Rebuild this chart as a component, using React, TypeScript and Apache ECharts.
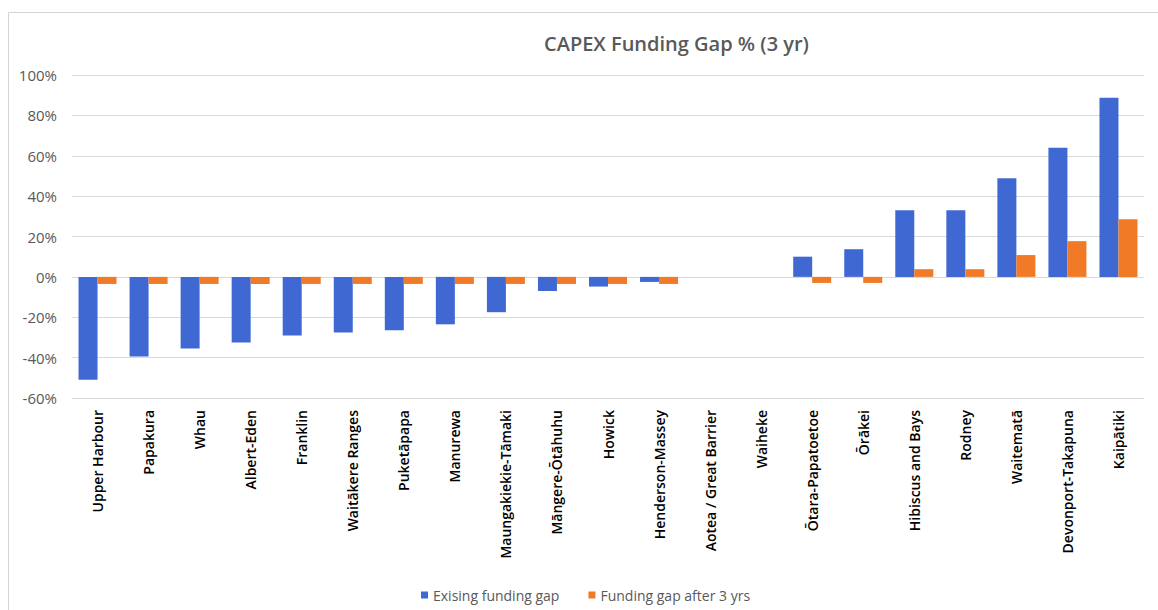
import React, { useEffect, useRef } from "react";
import * as echarts from "echarts";

const categories = [
  "Upper Harbour", "Papakura", "Whau", "Albert-Eden", "Franklin", "Waitākere Ranges",
  "Puketāpapa", "Manurewa", "Maungakiekie-Tāmaki", "Māngere-Ōtāhuhu", "Howick",
  "Henderson-Massey", "Aotea / Great Barrier", "Waiheke", "Ōtara-Papatoetoe", "Ōrākei",
  "Hibiscus and Bays", "Rodney", "Waitematā", "Devonport-Takapuna", "Kaipātiki",
];
const existingGap = [
  -51, -39.5, -35.5, -32.5, -29, -27.5, -26.5, -23.5, -17.5, -7, -4.8, -2.5, 0, 0,
  10, 13.7, 33, 33, 48.8, 64, 88.7,
];
const gapAfter3 = [
  -3.5, -3.5, -3.5, -3.5, -3.5, -3.5, -3.5, -3.5, -3.5, -3.5, -3.5, -3.5, 0, 0,
  -3, -3, 3.8, 3.8, 10.8, 17.7, 28.6,
];
const seriesNames = ["Exising funding gap", "Funding gap after 3 yrs"];
const titleText = "CAPEX Funding Gap % (3 yr)";

export default function App() {
  const ref = useRef<HTMLDivElement>(null);
  useEffect(() => {
    if (!ref.current) return;
    const chart = echarts.init(ref.current, undefined, { renderer: "svg" });
    const font = "'Open Sans', sans-serif";
    chart.setOption({
      animation: false,
      backgroundColor: "#ffffff",
      title: {
        text: titleText,
        left: 539,
        top: 28,
        textStyle: { fontFamily: font, fontSize: 20, fontWeight: 600, color: "#595959" },
      },
      graphic: [
        {
          type: "rect",
          shape: { x: 8.5, y: 12.5, width: 1160, height: 620 },
          style: { fill: "none", stroke: "#d4d4d4", lineWidth: 1 },
          silent: true,
        },
      ],
      legend: {
        left: 416,
        top: 583,
        itemWidth: 7,
        itemHeight: 7,
        itemGap: 29,
        icon: "rect",
        textStyle: { fontFamily: font, fontSize: 14, color: "#595959" },
        data: seriesNames,
      },
      grid: { left: 72, right: 14, top: 75, bottom: 212, containLabel: false },
      xAxis: {
        type: "category",
        data: categories,
        axisLine: { show: false, onZero: false },
        axisTick: { show: false },
        axisLabel: {
          rotate: 90,
          interval: 0,
          margin: 12,
          fontFamily: font,
          fontSize: 14,
          fontWeight: 600,
          color: "#000000",
        },
      },
      yAxis: {
        type: "value",
        min: -60,
        max: 100,
        interval: 20,
        axisLine: { show: false },
        axisTick: { show: false },
        splitLine: { lineStyle: { color: "#d9d9d9", width: 1 } },
        axisLabel: {
          margin: 15,
          fontFamily: font,
          fontSize: 15,
          color: "#595959",
          formatter: (v: number) => `${v}%`,
        },
      },
      series: [
        {
          name: seriesNames[0],
          type: "bar",
          data: existingGap,
          barWidth: 19,
          barGap: "0%",
          itemStyle: { color: "#3f68d3" },
        },
        {
          name: seriesNames[1],
          type: "bar",
          data: gapAfter3,
          barWidth: 19,
          itemStyle: { color: "#f07a26" },
        },
      ],
    });
    return () => chart.dispose();
  }, []);
  return (
    <div
      ref={ref}
      style={{ position: "fixed", left: 0, top: 0, width: 1158, height: 610 }}
    />
  );
}
